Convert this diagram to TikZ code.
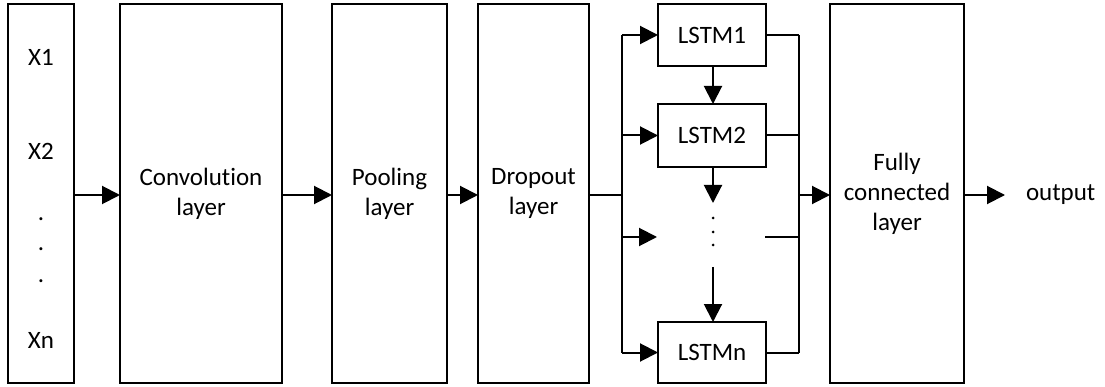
\documentclass[tikz,border=0pt]{standalone}
\usepackage{fontspec}
\setmainfont{Carlito}[Ligatures=NoCommon]
\usetikzlibrary{arrows.meta}
\begin{document}
\begin{tikzpicture}[x=1pt,y=-1pt,line width=2pt,
  box/.style={draw,inner sep=0pt,outer sep=0pt,align=center,font=\fontsize{25}{30}\selectfont},
  lbl/.style={inner sep=0pt,font=\fontsize{25}{30}\selectfont},
  sdot/.style={circle,fill,inner sep=0pt,minimum size=3pt,draw=none},
  arr/.style={-{Triangle[length=18pt,width=18pt]}}]
\useasboundingbox (0,0) rectangle (1105,387);
\coordinate (m) at (0,195);
% boxes
\node[box,minimum width=66pt,minimum height=379pt] (inp) at (41,193.5) {};
\node[box,minimum width=162pt,minimum height=379pt] (conv) at (201,193.5) {Convolution\\layer};
\node[box,minimum width=115pt,minimum height=379pt] (pool) at (389.5,193.5) {Pooling\\layer};
\node[box,minimum width=111pt,minimum height=379pt] (drop) at (533.5,193.5) {Dropout\\layer};
\node[box,minimum width=108pt,minimum height=62pt] (l1) at (712,35) {LSTM1};
\node[box,minimum width=108pt,minimum height=63pt] (l2) at (712,135.5) {LSTM2};
\node[box,minimum width=108pt,minimum height=61pt] (ln) at (712,352.5) {LSTMn};
\node[box,minimum width=134pt,minimum height=379pt] (fc) at (897,193.5) {Fully\\connected\\layer};
\node[lbl,anchor=west] (out) at (1025,195) {output};
% input labels
\node[lbl] (x1) at (41,57) {X1};
\node[lbl] (x2) at (41,151) {X2};
\node[lbl,anchor=base] (d1) at (41,221) {.};
\node[lbl,anchor=base] (d2) at (41,251) {.};
\node[lbl,anchor=base] (d3) at (41,283) {.};
\node[lbl] (xn) at (41,340) {Xn};
% main flow
\draw[arr] (inp.east|-m) -- (conv.west|-m);
\draw[arr] (conv.east|-m) -- (pool.west|-m);
\draw[arr] (pool.east|-m) -- (drop.west|-m);
% split to LSTMs
\coordinate (sl) at (622,195);
\coordinate (st) at (622,35);
\coordinate (sb) at (622,352.5);
\coordinate (sd) at (622,237);
\coordinate (dtip) at (657,237);
\draw (drop.east|-m) -- (sl);
\draw (st) -- (sb);
\draw[arr] (st) -- (l1.west);
\draw[arr] (sl|-l2) -- (l2.west);
\draw[arr] (sd) -- (dtip);
\draw[arr] (sb) -- (ln.west);
% vertical LSTM chain
\coordinate (v2) at (713,203);
\coordinate (v3) at (713,267);
\draw[arr] (l1.south-|v2) -- (l2.north-|v2);
\draw[arr] (l2.south-|v2) -- (v2);
\node[sdot] (vd1) at (713,218) {};
\node[sdot] (vd2) at (713,232) {};
\node[sdot] (vd3) at (713,245) {};
\draw[arr] (v3) -- (ln.north-|v3);
% merge
\coordinate (rt) at (799,35);
\coordinate (rb) at (799,352.5);
\coordinate (rm) at (799,195);
\coordinate (rd0) at (765,237);
\coordinate (rd) at (799,237);
\draw (l1.east) -- (rt);
\draw (l2.east) -- (rt|-l2);
\draw (rd0) -- (rd);
\draw (ln.east) -- (rb);
\draw (rt) -- (rb);
\draw[arr] (rm) -- (fc.west|-m);
\draw[arr,shorten >=20pt] (fc.east|-m) -- (out.west);
\end{tikzpicture}
\end{document}
